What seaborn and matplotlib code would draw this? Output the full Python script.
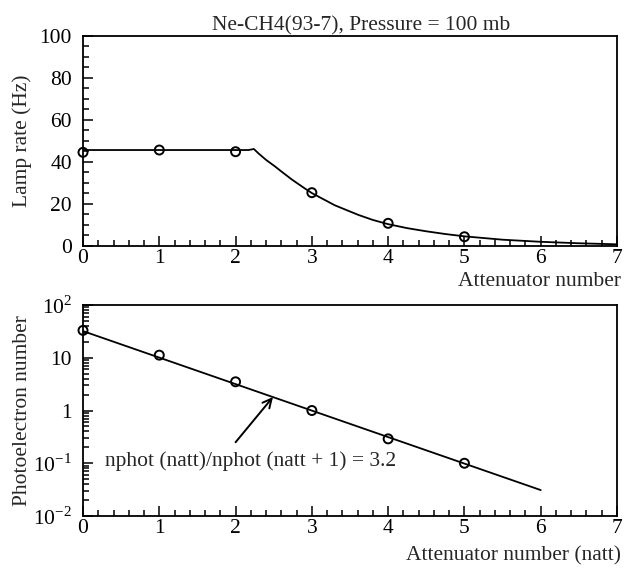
import matplotlib
matplotlib.use("Agg")
import matplotlib.pyplot as plt
from matplotlib.ticker import MultipleLocator, LogLocator, NullFormatter, FixedLocator
import seaborn as sns
import pandas as pd

# ---- data ----
att_points = [0, 1, 2, 3, 4, 5]
lamp_rate = [44.6, 45.7, 44.9, 25.4, 10.8, 4.4]

curve_x = [0, 2.17, 2.24, 2.3, 2.4, 2.52, 2.6, 2.74, 2.9, 3.0, 3.3, 3.61, 3.8, 4.0,
           4.25, 4.5, 4.75, 5.0, 5.5, 6.0, 6.5, 7.0]
curve_y = [45.7, 45.7, 46.2, 44.1, 41.0, 37.8, 35.5, 31.6, 27.6, 25.2, 19.4, 14.8, 12.4, 10.4,
           8.5, 7.0, 5.7, 4.6, 3.0, 2.0, 1.3, 0.8]

phot_points = [33.0, 11.2, 3.5, 1.0, 0.29, 0.10]
fit_x = [0, 6]
fit_y = [32.0, 0.031]

title = "Ne-CH4(93-7), Pressure = 100 mb"
top_ylabel = "Lamp rate (Hz)"
top_xlabel = "Attenuator number"
bot_ylabel = "Photoelectron number"
bot_xlabel = "Attenuator number (natt)"
annot_text = "nphot (natt)/nphot (natt + 1) = 3.2"

sns.set_theme(style="white")
plt.rcParams["font.family"] = ["Liberation Serif", "DejaVu Serif"]
plt.rcParams["mathtext.fontset"] = "custom"
plt.rcParams["mathtext.rm"] = "Liberation Serif"
FS = 15.5

fig = plt.figure(figsize=(6.24, 5.72), dpi=100)
ax1 = fig.add_axes([83/624, 1-246/572, (617-83)/624, (246-36)/572])
ax2 = fig.add_axes([83/624, 1-516/572, (617-83)/624, (516-305)/572])

line_kw = dict(color="black", linewidth=1.3)
mk_kw = dict(marker="o", s=42, facecolor="none", edgecolor="black", linewidth=1.4, zorder=5)

df_curve = pd.DataFrame({"x": curve_x, "y": curve_y})
df_pts = pd.DataFrame({"x": att_points, "y": lamp_rate})
sns.lineplot(data=df_curve, x="x", y="y", ax=ax1, **line_kw)
ax1.scatter(df_pts["x"], df_pts["y"], **mk_kw, clip_on=False)

df_fit = pd.DataFrame({"x": fit_x, "y": fit_y})
df_ph = pd.DataFrame({"x": att_points, "y": phot_points})
sns.lineplot(data=df_fit, x="x", y="y", ax=ax2, **line_kw)
ax2.scatter(df_ph["x"], df_ph["y"], **mk_kw, clip_on=False)

for ax in (ax1, ax2):
    ax.set_xlim(0, 7)
    for s in ax.spines.values():
        s.set_color("black")
        s.set_linewidth(1.3)
    ax.xaxis.set_major_locator(MultipleLocator(1))
    ax.xaxis.set_minor_locator(MultipleLocator(0.2))
    ax.tick_params(which="both", direction="in", top=False, right=False,
                   bottom=True, left=True, colors="black", labelsize=FS, width=1.1)
    ax.tick_params(which="major", length=7)
    ax.tick_params(which="minor", length=4)
    ax.tick_params(axis="x", which="major", pad=2)
    ax.tick_params(axis="y", which="major", pad=8)
    ax.set_xlabel("")
    ax.set_ylabel("")

ax1.set_ylim(0, 100)
ax1.yaxis.set_major_locator(MultipleLocator(20))
ax1.yaxis.set_minor_locator(MultipleLocator(5))

ax2.set_yscale("log")
ax2.set_ylim(0.01, 100)
ax2.yaxis.set_major_locator(FixedLocator([0.01, 0.1, 1, 10, 100]))
ax2.set_yticklabels([r"$10^{-2}$", r"$10^{-1}$", "1", "10", r"$10^{2}$"])
ax2.yaxis.set_minor_locator(LogLocator(base=10, subs=range(2, 10)))
ax2.yaxis.set_minor_formatter(NullFormatter())

ax1.set_title(title, fontsize=FS, pad=4, x=0.52)

ax1.set_ylabel(top_ylabel, fontsize=FS)
ax1.yaxis.set_label_coords(-0.114, 0.5)
ax1.yaxis.label.set_va("center")
ax2.set_ylabel(bot_ylabel, fontsize=FS)
ax2.yaxis.set_label_coords(-0.114, 0.5)
ax2.yaxis.label.set_va("center")

ax1.set_xlabel(top_xlabel, fontsize=FS, loc="right")
ax1.xaxis.set_label_coords(1.008, -0.168)
ax1.xaxis.label.set_va("center")
ax2.set_xlabel(bot_xlabel, fontsize=FS, loc="right")
ax2.xaxis.set_label_coords(1.008, -0.19)
ax2.xaxis.label.set_va("center")

ax2.annotate("", xy=(2.49, 1.8), xytext=(2.0, 0.25),
             arrowprops=dict(arrowstyle="->", color="black", lw=1.4,
                             mutation_scale=16, shrinkA=0, shrinkB=0))
ax2.text(0.29, 0.11, annot_text, fontsize=FS, ha="left", va="center")

fig.savefig("out.png", dpi=100, facecolor="white")
